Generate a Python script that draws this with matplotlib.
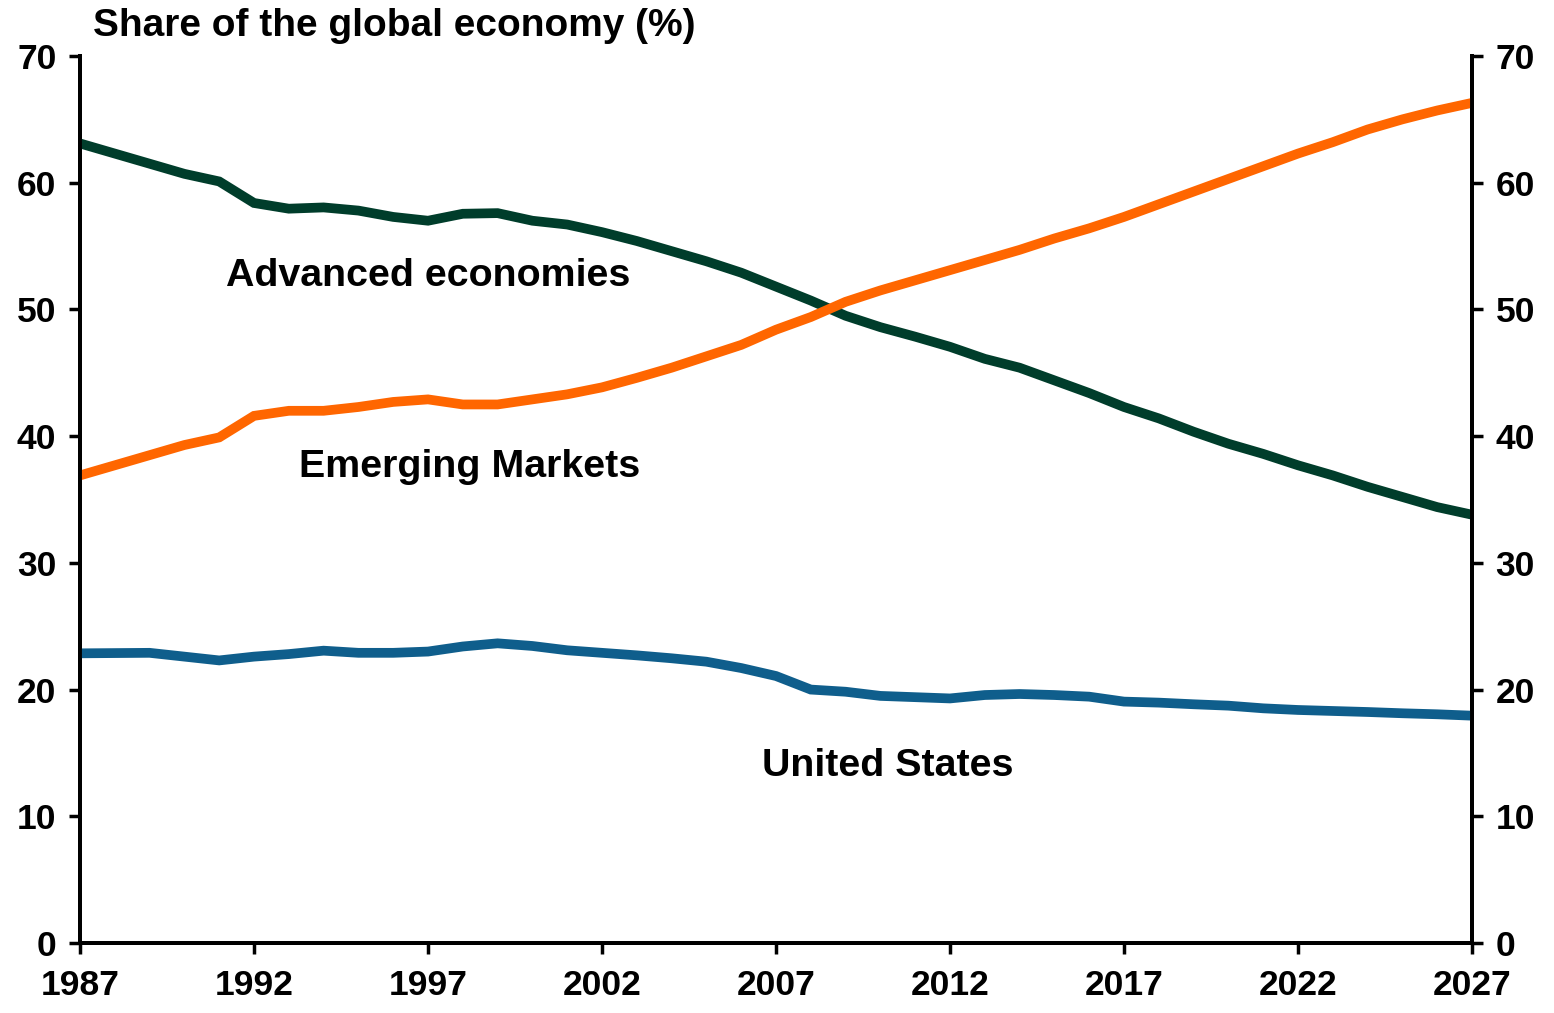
import numpy as np
import matplotlib.pyplot as plt

years = list(range(1987, 2028))

advanced = [63.1, 62.3, 61.5, 60.7, 60.1, 58.4, 57.95, 58.05, 57.8, 57.3,
            57.0, 57.55, 57.6, 57.0, 56.7, 56.1, 55.4, 54.6, 53.8, 52.9,
            51.8, 50.7, 49.5, 48.6, 47.85, 47.05, 46.1, 45.4, 44.4, 43.4,
            42.3, 41.4, 40.35, 39.4, 38.6, 37.7, 36.9, 36.0, 35.2, 34.4, 33.8]

emerging = [36.9, 37.7, 38.5, 39.3, 39.9, 41.6, 42.0, 42.0, 42.3, 42.7,
            42.9, 42.5, 42.5, 42.9, 43.3, 43.85, 44.6, 45.4, 46.3, 47.2,
            48.4, 49.4, 50.6, 51.5, 52.3, 53.1, 53.9, 54.7, 55.6, 56.4,
            57.3, 58.3, 59.3, 60.3, 61.3, 62.3, 63.2, 64.2, 65.0, 65.7, 66.3]

us = [22.86, 22.88, 22.9, 22.6, 22.3, 22.6, 22.8, 23.07, 22.9, 22.9,
      23.0, 23.4, 23.65, 23.44, 23.1, 22.9, 22.7, 22.47, 22.2, 21.7,
      21.07, 20.0, 19.83, 19.5, 19.4, 19.3, 19.57, 19.65, 19.57, 19.44,
      19.05, 18.97, 18.84, 18.73, 18.52, 18.39, 18.31, 18.23, 18.13, 18.05, 17.94]

xticks = list(range(1987, 2028, 5))
yticks = list(range(0, 71, 10))

plt.rcParams['font.family'] = ['Liberation Sans', 'DejaVu Sans']
plt.rcParams['font.weight'] = 'bold'

fig = plt.figure(figsize=(15.54, 10.13), dpi=100)
ax = fig.add_axes([80/1554, 70/1013, 1392/1554, 887/1013])

ax.plot(years, advanced, color='#003d2b', lw=7, solid_joinstyle='miter', zorder=3)
ax.plot(years, emerging, color='#ff6600', lw=7, solid_joinstyle='miter', zorder=4)
ax.plot(years, us, color='#0f5e8c', lw=7, solid_joinstyle='miter', zorder=3)

ax.set_xlim(1987, 2027)
ax.set_ylim(0, 70)
ax.set_xticks(xticks)
ax.set_yticks(yticks)

ax.tick_params(axis='both', direction='out', length=8, width=2.5,
               labelsize=25.5, pad=9)
ax.tick_params(axis='x', pad=11)
for s in ['left', 'bottom', 'right']:
    ax.spines[s].set_linewidth(2.8)
ax.spines['top'].set_visible(False)

ax2 = ax.twinx()
ax2.set_ylim(0, 70)
ax2.set_yticks(yticks)
ax2.tick_params(axis='y', direction='out', length=8, width=2.5,
                labelsize=25.5, pad=9)
for s in ['left', 'bottom', 'right']:
    ax2.spines[s].set_linewidth(2.8)
ax2.spines['top'].set_visible(False)

ax.text(1991.2, 52.6, 'Advanced economies', fontsize=28.4, fontweight='bold',
        va='center', ha='left')
ax.text(1993.3, 37.6, 'Emerging Markets', fontsize=28.4, fontweight='bold',
        va='center', ha='left')
ax.text(2006.6, 14.0, 'United States', fontsize=28.4, fontweight='bold',
        va='center', ha='left')

fig.text(93/1554, 1 - 26/1013, 'Share of the global economy (%)',
         fontsize=28, fontweight='bold', va='center', ha='left')

fig.savefig('out.png', dpi=100, facecolor='white')
